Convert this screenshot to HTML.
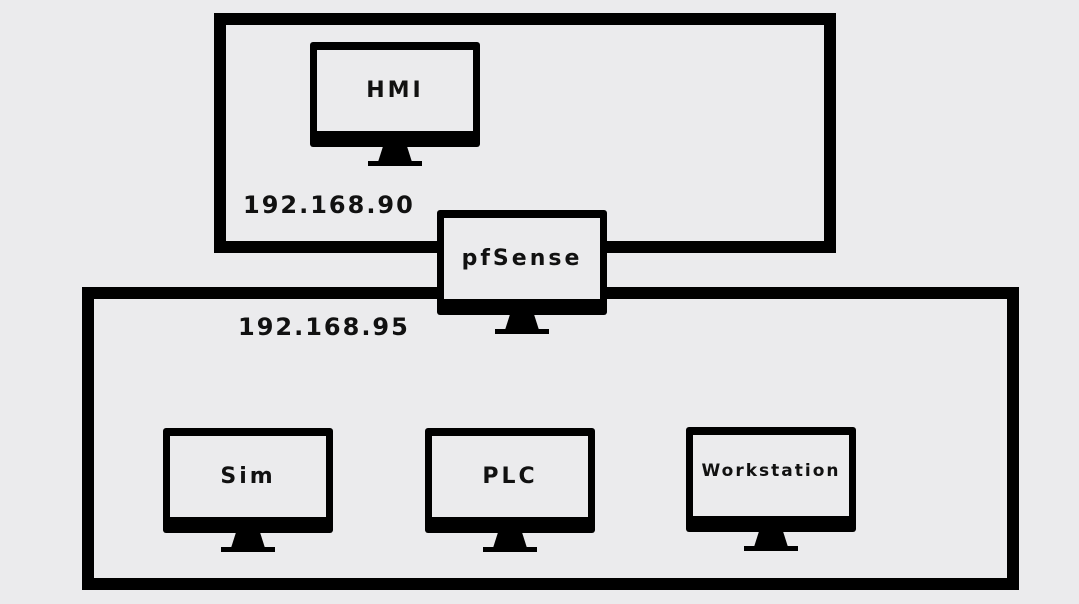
<!DOCTYPE html>
<html><head><meta charset="utf-8"><style>
body{margin:0;width:1079px;height:604px;background:#ebebed;overflow:hidden;position:relative;font-family:"DejaVu Sans","Liberation Sans",sans-serif;}
.box{position:absolute;border:12px solid #000;box-sizing:border-box;}
.mon{position:absolute;width:170px;height:125px;}
.scr{position:absolute;left:0;top:0;width:170px;height:105px;background:#000;border-radius:3px;}
.in{position:absolute;left:7px;top:8px;width:156px;height:81px;background:#ebebed;display:flex;align-items:center;justify-content:center;font-size:22px;font-weight:bold;letter-spacing:3px;color:#111;}
.st{position:absolute;left:68px;top:104px;width:34px;height:16px;background:#000;clip-path:polygon(15% 0,85% 0,100% 100%,0 100%);}
.base{position:absolute;left:58px;top:119px;width:54px;height:5px;background:#000;}
.t{position:absolute;font-size:24px;font-weight:bold;letter-spacing:2px;color:#111;}
</style></head><body>
<div class="box" style="left:214px;top:13px;width:622px;height:240px"></div>
<div class="box" style="left:82px;top:287px;width:937px;height:303px"></div>
<div class="t" style="left:243px;top:191px">192.168.90</div>
<div class="t" style="left:238px;top:313px">192.168.95</div>
<div class="mon" style="left:310px;top:42px"><div class="scr"><div class="in">HMI</div></div><div class="st"></div><div class="base"></div></div>
<div class="mon" style="left:437px;top:210px"><div class="scr"><div class="in">pfSense</div></div><div class="st"></div><div class="base"></div></div>
<div class="mon" style="left:163px;top:428px"><div class="scr"><div class="in">Sim</div></div><div class="st"></div><div class="base"></div></div>
<div class="mon" style="left:425px;top:428px"><div class="scr"><div class="in">PLC</div></div><div class="st"></div><div class="base"></div></div>
<div class="mon" style="left:686px;top:427px"><div class="scr"><div class="in" style="font-size:17px;letter-spacing:2px;align-items:flex-start;padding-top:26px;box-sizing:border-box">Workstation</div></div><div class="st"></div><div class="base"></div></div>
</body></html>
